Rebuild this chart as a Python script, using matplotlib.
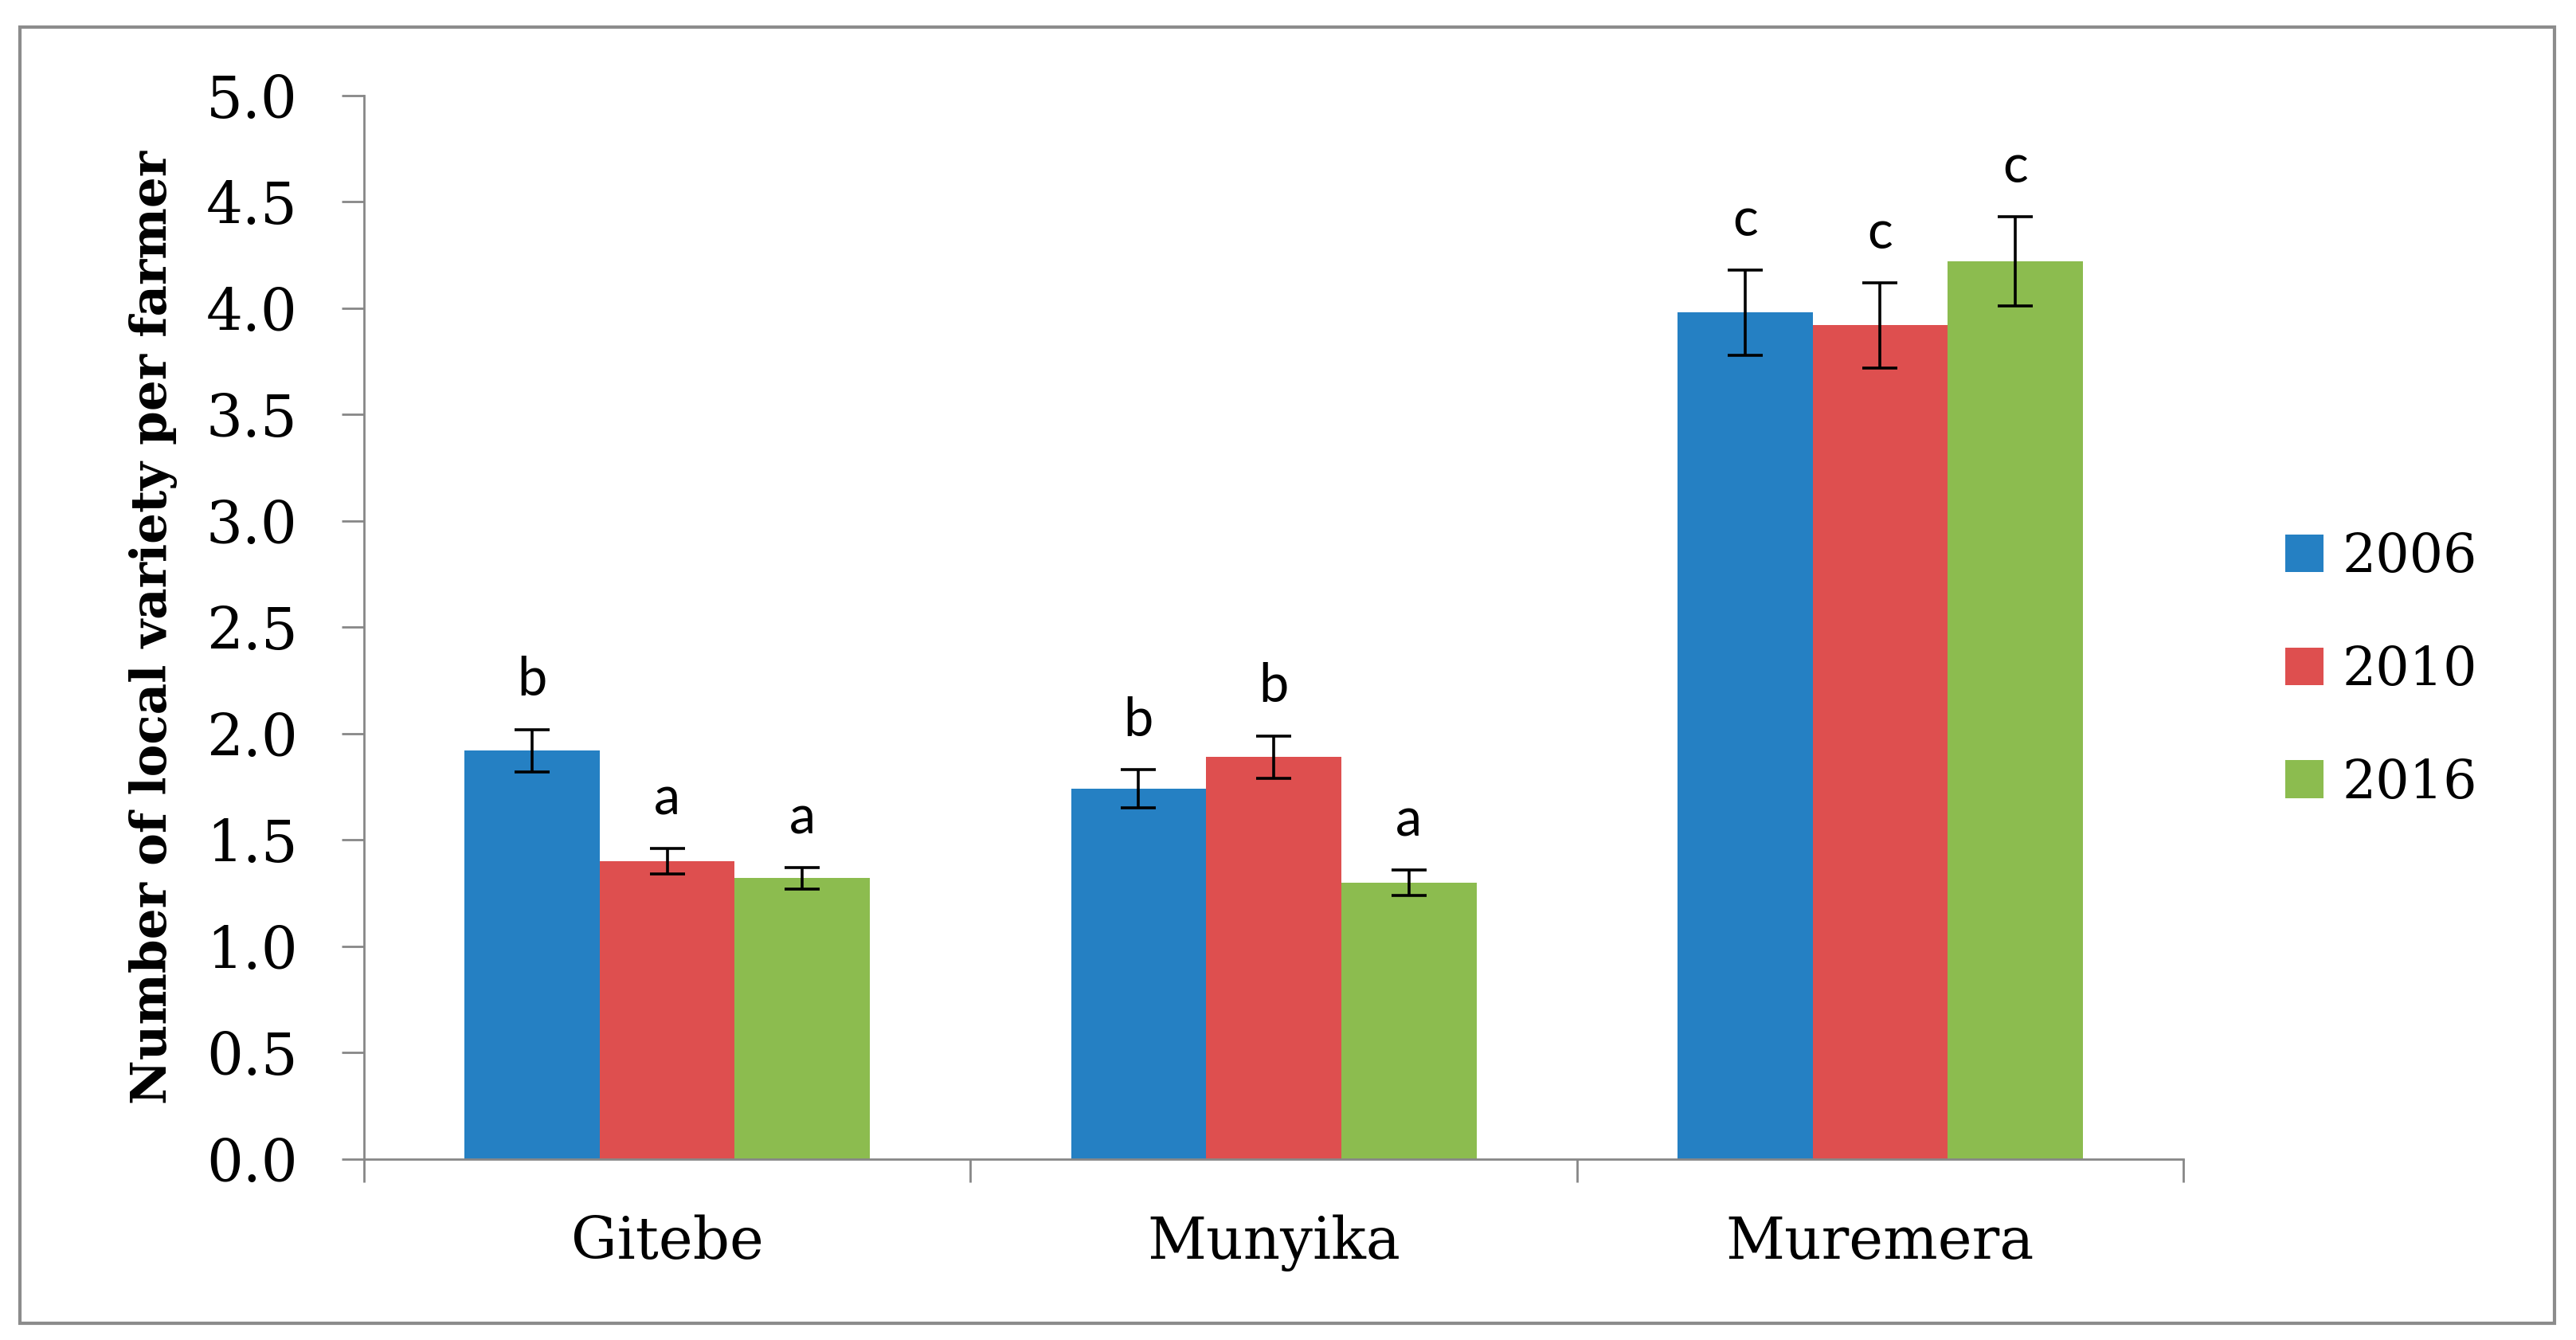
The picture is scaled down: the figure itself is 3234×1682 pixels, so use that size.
import numpy as np
import matplotlib.pyplot as plt
from matplotlib.patches import Rectangle

# ======================
# DATA
# ======================
sites = ["Gitebe", "Munyika", "Muremera"]
years = ["2006", "2010", "2016"]

mean_2006 = [1.92, 1.74, 3.98]
mean_2010 = [1.40, 1.89, 3.92]
mean_2016 = [1.32, 1.30, 4.22]

err_2006 = [0.10, 0.09, 0.20]
err_2010 = [0.06, 0.10, 0.20]
err_2016 = [0.05, 0.06, 0.21]

letters_2006 = ["b", "b", "c"]
letters_2010 = ["a", "b", "c"]
letters_2016 = ["a", "a", "c"]

y_ticks = [0.0, 0.5, 1.0, 1.5, 2.0, 2.5, 3.0, 3.5, 4.0, 4.5, 5.0]

colors = ["#2580C3", "#DE4F4F", "#8CBC4F"]

# ======================
# FIGURE
# ======================
serif = "DejaVu Serif"
fig = plt.figure(figsize=(32.34, 16.82), dpi=100)
ax = fig.add_axes([0.1413, 0.135, 0.7063, 0.7937])

means = [mean_2006, mean_2010, mean_2016]
errs = [err_2006, err_2010, err_2016]
letters = [letters_2006, letters_2010, letters_2016]

bar_w = 0.2228
x = np.arange(len(sites)) + 0.5

for k in range(3):
    pos = x + (k - 1) * bar_w
    ax.bar(pos, means[k], width=bar_w, color=colors[k], label=years[k], zorder=2)
    ax.errorbar(pos, means[k], yerr=errs[k], fmt="none", ecolor="black",
                elinewidth=2.6, capsize=16, capthick=2.6, zorder=3)
    for p, m, e, l in zip(pos, means[k], errs[k], letters[k]):
        ax.text(p, m + e + 0.16, l, ha="center", va="baseline",
                fontsize=48, family="Lato", color="black")

ax.set_xlim(0, 3)
ax.set_ylim(0, 5)

# axis styling
for s in ["top", "right"]:
    ax.spines[s].set_visible(False)
for s in ["left", "bottom"]:
    ax.spines[s].set_color("#878787")
    ax.spines[s].set_linewidth(2)

ax.set_yticks(y_ticks)
ax.set_yticklabels([f"{v:.1f}" for v in y_ticks], family=serif, fontsize=52)
ax.tick_params(axis="y", direction="out", length=20, width=2, color="#878787", pad=40)

ax.set_xticks([0, 1, 2, 3])
ax.set_xticklabels([])
ax.tick_params(axis="x", which="major", direction="out", length=21, width=2, color="#878787")
ax.set_xticks(x, minor=True)
ax.set_xticklabels(sites, minor=True, family=serif, fontsize=52)
ax.tick_params(axis="x", which="minor", length=0, pad=50)

ax.set_ylabel("Number of local variety per farmer", family=serif,
              fontweight="bold", fontsize=44)
ax.yaxis.set_label_coords(-0.1025, 0.5)

# legend
fig.legend(loc="center left", bbox_to_anchor=(0.887, 0.50), frameon=False,
           prop={"family": serif, "size": 48}, handlelength=0.72, handleheight=0.72,
           handletextpad=0.36, labelspacing=1.15, borderpad=0, borderaxespad=0)

# outer border
fig.patches.append(Rectangle((0.0077, 0.0125), 0.984, 0.9675, transform=fig.transFigure,
                             fill=False, edgecolor="#8C8C8C", linewidth=3))

plt.savefig("out.png", dpi=100)
plt.close()
